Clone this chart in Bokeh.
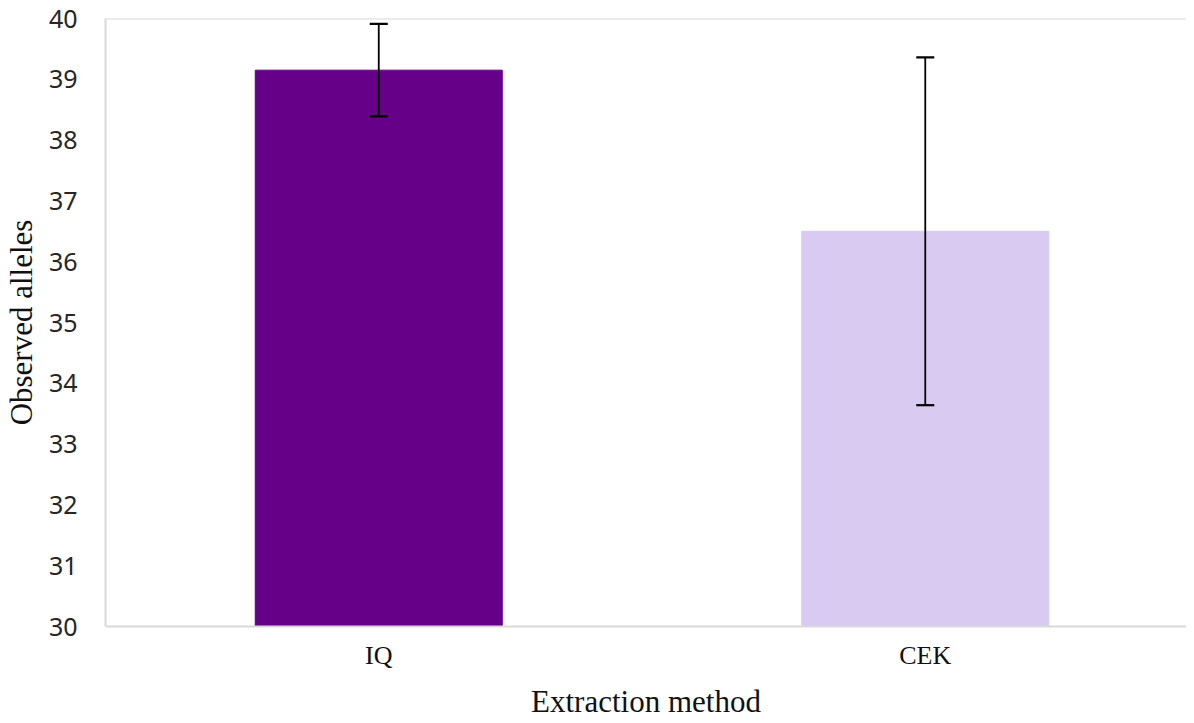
from bokeh.plotting import figure
from bokeh.models import ColumnDataSource, Whisker, TeeHead, Span, Range1d, FixedTicker
from bokeh.embed import file_html
from bokeh.resources import INLINE

methods = ["IQ", "CEK"]
observed = [39.15, 36.50]
errors = [0.76, 2.86]
colors = ["#660088", "#D9CAF2"]

xpos = [i + 0.5 for i in range(len(methods))]
upper = [v + e for v, e in zip(observed, errors)]
lower = [v - e for v, e in zip(observed, errors)]

src = ColumnDataSource(dict(x=xpos, top=observed, upper=upper, lower=lower, color=colors))

p = figure(x_range=Range1d(0, 1.978), y_range=Range1d(30, 40),
           width=1186, height=721, output_backend="svg", toolbar_location=None,
           min_border_left=104, min_border_top=18, min_border_bottom=80, min_border_right=0)

p.vbar(x="x", top="top", bottom=30, width=0.452, color="color", source=src)

w = Whisker(base="x", upper="upper", lower="lower", source=src, line_color="black", line_width=1.8,
            upper_head=TeeHead(size=18, line_color="black", line_width=2.2),
            lower_head=TeeHead(size=18, line_color="black", line_width=2.2))
w.level = "overlay"
p.add_layout(w)

p.add_layout(Span(location=40, dimension="width", line_color="#d9d9d9", line_width=2))

p.outline_line_color = None
p.xgrid.grid_line_color = None
p.ygrid.grid_line_color = None
p.background_fill_color = "white"
p.border_fill_color = "white"

p.yaxis.ticker = list(range(30, 41))
p.yaxis.major_tick_line_color = None
p.yaxis.minor_tick_line_color = None
p.yaxis.axis_line_color = "#d9d9d9"
p.yaxis.axis_line_width = 2
p.yaxis.major_label_text_font = "Noto Sans"
p.yaxis.major_label_text_font_size = "25px"
p.yaxis.major_label_text_color = "#262626"
p.yaxis.major_label_standoff = 22
p.yaxis.axis_label = "Observed alleles"
p.yaxis.axis_label_text_font = "Liberation Serif"
p.yaxis.axis_label_text_font_size = "31px"
p.yaxis.axis_label_text_font_style = "normal"
p.yaxis.axis_label_text_color = "#111111"
p.yaxis.axis_label_standoff = 7

p.xaxis.ticker = FixedTicker(ticks=xpos, minor_ticks=[])
p.xaxis.major_label_overrides = {x: m for x, m in zip(xpos, methods)}
p.xaxis.major_tick_line_color = None
p.xaxis.minor_tick_line_color = None
p.xaxis.axis_line_color = "#d9d9d9"
p.xaxis.axis_line_width = 2
p.xaxis.major_label_text_font = "Liberation Serif"
p.xaxis.major_label_text_font_size = "26px"
p.xaxis.major_label_text_color = "#111111"
p.xaxis.major_label_standoff = 8
p.xaxis.axis_label = "Extraction method"
p.xaxis.axis_label_text_font = "Liberation Serif"
p.xaxis.axis_label_text_font_size = "31px"
p.xaxis.axis_label_text_font_style = "normal"
p.xaxis.axis_label_text_color = "#111111"
p.xaxis.axis_label_standoff = 11

open("out.html", "w").write(file_html(p, INLINE))
